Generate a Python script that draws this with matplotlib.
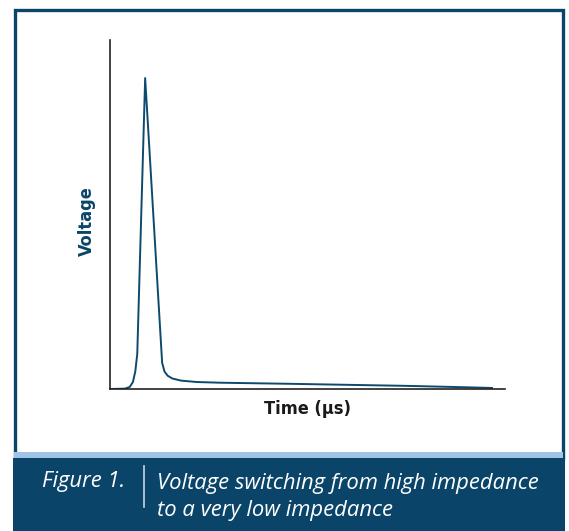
import numpy as np
import matplotlib.pyplot as plt
from matplotlib.patches import Rectangle

# waveform (time / voltage in arbitrary units, 0-100)
t = [0, 3.8, 5.0, 5.8, 6.4, 6.9, 8.9, 13.2, 13.8, 14.6, 15.8, 18.0, 22.0, 28.0, 45.0, 60.0, 75.0, 90.0, 96.7]
v = [0, 0.1, 0.6, 2.0, 5.0, 10.0, 89.1, 7.5, 5.0, 3.8, 3.0, 2.4, 2.0, 1.8, 1.5, 1.2, 0.9, 0.5, 0.3]

x_label = 'Time (µs)'
y_label = 'Voltage'
fig_tag = 'Figure 1.'
caption = 'Voltage switching from high impedance\nto a very low impedance'

W, H = 569, 531
dark = '#0a4569'
light = '#9fc4e6'

fig = plt.figure(figsize=(W / 100, H / 100), dpi=100)
fig.patch.set_facecolor('white')

def px(x0, y0, x1, y1):
    # pixel box -> figure fraction rect
    return (x0 / W, 1 - y1 / H), (x1 - x0) / W, (y1 - y0) / H

# outer frame, light stripe and caption band
xy, w, h = px(14.5, 10, 563, 459)
fig.patches.append(Rectangle(xy, w, h, transform=fig.transFigure, fill=False,
                             edgecolor=dark, lw=2.4))
xy, w, h = px(14, 452, 563, 458)
fig.patches.append(Rectangle(xy, w, h, transform=fig.transFigure, facecolor=light, lw=0))
xy, w, h = px(13, 458, 564.5, 531)
fig.patches.append(Rectangle(xy, w, h, transform=fig.transFigure, facecolor=dark, lw=0))

# separator between tag and caption
fig.add_artist(plt.Line2D([143.5 / W, 143.5 / W], [1 - 466 / H, 1 - 507 / H],
                          transform=fig.transFigure, color='#c9d6e2', lw=1.2))
cap_font = ['Open Sans', 'DejaVu Sans']
fig.text(125 / W, 1 - 482 / H, fig_tag, color='white', fontsize=15.8, style='italic',
         ha='right', va='center', family=cap_font)
fig.text(157 / W, 1 - 497 / H, caption, color='white', fontsize=15.8, style='italic',
         ha='left', va='center', linespacing=1.42, family=cap_font)

ax = fig.add_axes([110 / W, 1 - 389 / H, 395 / W, 349 / H])
ax.plot(t, v, color='#0d4a6e', lw=1.4, solid_joinstyle='round')
ax.set_xlim(0, 100)
ax.set_ylim(0, 100)
ax.set_xticks([])
ax.set_yticks([])
ax.spines['top'].set_visible(False)
ax.spines['right'].set_visible(False)
for s in ('left', 'bottom'):
    ax.spines[s].set_color('#222222')
    ax.spines[s].set_linewidth(1.2)
ax.set_xlabel(x_label, fontsize=13, fontweight='bold', color='#1a1a1a',
              family='DejaVu Sans', fontstretch='condensed', labelpad=8)
ax.set_ylabel(y_label, fontsize=13, fontweight='bold', color=dark,
              family='DejaVu Sans', fontstretch='condensed')
ax.yaxis.set_label_coords(-0.035, 0.48)

fig.savefig('out.png', dpi=100)
